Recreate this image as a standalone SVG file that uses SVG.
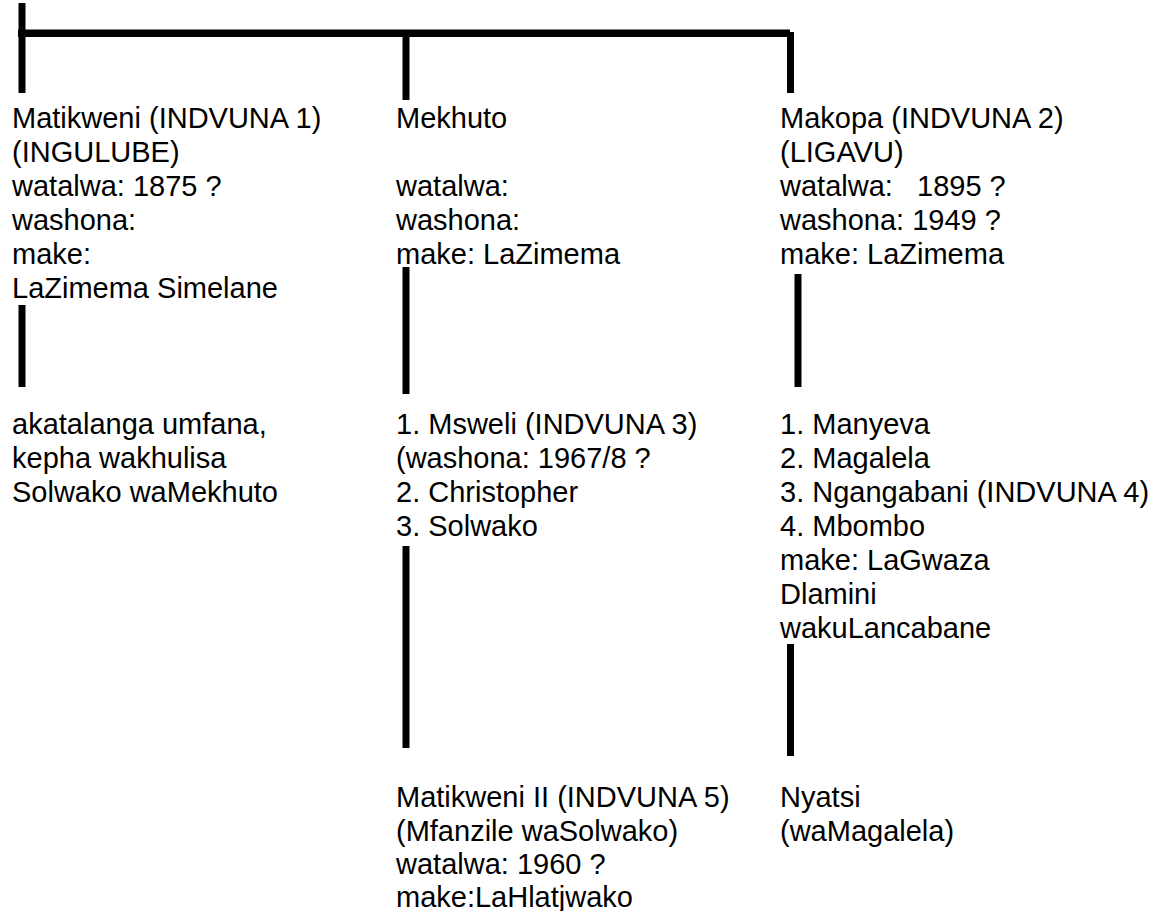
<svg xmlns="http://www.w3.org/2000/svg" width="1162" height="911" viewBox="0 0 1162 911">
<style>
text{font-family:"Liberation Sans",Arial,sans-serif;font-size:29px;fill:#000;white-space:pre}
.bar{stroke:#000;stroke-width:7;fill:none}
.hbar{stroke:#000;stroke-width:7.5;fill:none}
</style>
<rect width="1162" height="911" fill="#fff"/>
<g id="connectors">
<line class="hbar" x1="18" y1="33.2" x2="790" y2="33.2"/>
<line class="bar" x1="22" y1="3" x2="22" y2="93"/>
<line class="bar" x1="406" y1="33" x2="406" y2="100"/>
<line class="bar" x1="790.5" y1="32" x2="790.5" y2="93"/>
<line class="bar" x1="22" y1="305" x2="22" y2="387"/>
<line class="bar" x1="406" y1="267" x2="406" y2="394"/>
<line class="bar" x1="798" y1="274" x2="798" y2="387"/>
<line class="bar" x1="406" y1="546" x2="406" y2="748"/>
<line class="bar" x1="790.5" y1="644" x2="790.5" y2="756"/>
</g>
<g id="matikweni">
<text x="12" y="128">Matikweni (INDVUNA 1)</text>
<text x="12" y="162">(INGULUBE)</text>
<text x="12" y="196">watalwa: 1875 ?</text>
<text x="12" y="230">washona:</text>
<text x="12" y="264">make:</text>
<text x="12" y="298">LaZimema Simelane</text>
</g>
<g id="mekhuto">
<text x="396" y="128">Mekhuto</text>
<text x="396" y="196">watalwa:</text>
<text x="396" y="230">washona:</text>
<text x="396" y="264">make: LaZimema</text>
</g>
<g id="makopa">
<text x="780" y="128">Makopa (INDVUNA 2)</text>
<text x="780" y="162">(LIGAVU)</text>
<text x="780" y="196">watalwa:   1895 ?</text>
<text x="780" y="230">washona: 1949 ?</text>
<text x="780" y="264">make: LaZimema</text>
</g>
<g id="akatalanga">
<text x="12" y="434">akatalanga umfana,</text>
<text x="12" y="468">kepha wakhulisa</text>
<text x="12" y="502">Solwako waMekhuto</text>
</g>
<g id="msweli">
<text x="396" y="434">1. Msweli (INDVUNA 3)</text>
<text x="396" y="468">(washona: 1967/8 ?</text>
<text x="396" y="502">2. Christopher</text>
<text x="396" y="536">3. Solwako</text>
</g>
<g id="manyeva">
<text x="780" y="434">1. Manyeva</text>
<text x="780" y="468">2. Magalela</text>
<text x="780" y="502">3. Ngangabani (INDVUNA 4)</text>
<text x="780" y="536">4. Mbombo</text>
<text x="780" y="570">make: LaGwaza</text>
<text x="780" y="604">Dlamini</text>
<text x="780" y="638">wakuLancabane</text>
</g>
<g id="matikweni2">
<text x="396" y="807">Matikweni II (INDVUNA 5)</text>
<text x="396" y="841">(Mfanzile waSolwako)</text>
<text x="396" y="874">watalwa: 1960 ?</text>
<text x="396" y="907">make:LaHlatjwako</text>
</g>
<g id="nyatsi">
<text x="780" y="807">Nyatsi</text>
<text x="780" y="841">(waMagalela)</text>
</g>
</svg>
